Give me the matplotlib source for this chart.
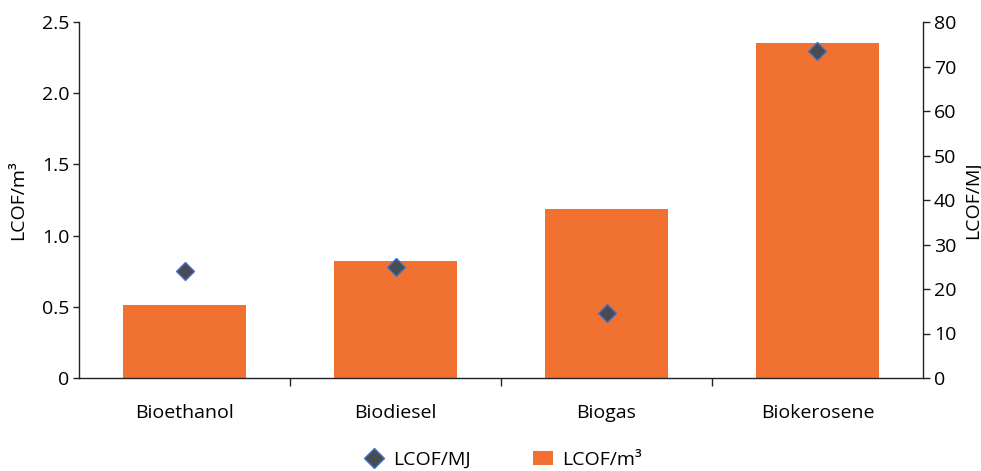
import matplotlib
matplotlib.use("Agg")
import matplotlib.pyplot as plt
from matplotlib.lines import Line2D
from matplotlib.patches import Patch
import numpy as np

plt.rcParams['font.family'] = ['Open Sans', 'DejaVu Sans']

categories = ["Bioethanol", "Biodiesel", "Biogas", "Biokerosene"]
lcof_m3 = [0.51, 0.82, 1.19, 2.35]
lcof_mj = [24.0, 25.0, 14.7, 73.4]

left_ticks = [0, 0.5, 1.0, 1.5, 2.0, 2.5]
left_tick_labels = ["0", "0.5", "1.0", "1.5", "2.0", "2.5"]
right_ticks = [0, 10, 20, 30, 40, 50, 60, 70, 80]

bar_color = "#F17130"
marker_face = "#484C52"
marker_edge = "#4472C4"
axis_color = "#222222"
fs = 14

fig = plt.figure(figsize=(9.81, 4.71), dpi=100)
ax = fig.add_axes([79 / 981, (471 - 378) / 471, (923 - 79) / 981, (378 - 22) / 471])
ax2 = ax.twinx()

x = np.arange(len(categories))
ax.bar(x, lcof_m3, width=0.58, color=bar_color, zorder=2)
ax2.plot(x, lcof_mj, linestyle="none", marker="D", markersize=9,
         markerfacecolor=marker_face, markeredgecolor=marker_edge,
         markeredgewidth=1.0, zorder=3)

ax.set_xlim(-0.5, len(categories) - 0.5)
ax.set_ylim(0, 2.5)
ax2.set_ylim(0, 80)

ax.set_yticks(left_ticks)
ax.set_yticklabels(left_tick_labels)
ax2.set_yticks(right_ticks)

# category labels centred under bars, tick marks between categories
ax.set_xticks(x)
ax.set_xticklabels(categories)
ax.set_xticks(np.arange(len(categories) - 1) + 0.5, minor=True)
ax.tick_params(axis="x", which="major", length=0, pad=19, labelsize=fs)
ax.tick_params(axis="x", which="minor", length=6, width=1, color=axis_color, direction="out")

ax.tick_params(axis="y", length=4, width=1, color=axis_color, labelsize=fs, pad=3)
ax2.tick_params(axis="y", length=5, width=1, color=axis_color, labelsize=fs, pad=3)

for a in (ax, ax2):
    a.spines["top"].set_visible(False)
    for s in ("left", "right", "bottom"):
        a.spines[s].set_color(axis_color)
        a.spines[s].set_linewidth(1.0)
ax.spines["right"].set_visible(False)
ax2.spines["left"].set_visible(False)
ax2.spines["bottom"].set_visible(False)

ax.set_ylabel("LCOF/m³", fontsize=fs)
ax.yaxis.set_label_coords(-0.061, 0.5)
ax2.set_ylabel("LCOF/MJ", fontsize=fs, rotation=90)
ax2.yaxis.set_label_coords(1.048, 0.5)

handles = [
    Line2D([0], [0], linestyle="none", marker="D", markersize=10,
           markerfacecolor=marker_face, markeredgecolor=marker_edge, markeredgewidth=1.0),
    Patch(facecolor=bar_color, edgecolor="none"),
]
fig.legend(handles, ["LCOF/MJ", "LCOF/m³"], loc="center", bbox_to_anchor=(0.513, 0.024),
           ncol=2, frameon=False, fontsize=fs, columnspacing=3.2, handlelength=1.0,
           handletextpad=0.5)

fig.savefig("out.png", dpi=100)
